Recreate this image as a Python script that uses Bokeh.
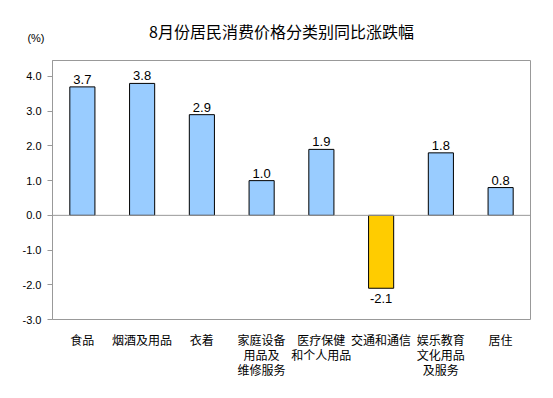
from bokeh.plotting import figure
from bokeh.layouts import column
from bokeh.models import Range1d, FactorRange, ColumnDataSource, Span, Label, FixedTicker, NumeralTickFormatter
from bokeh.embed import file_html
from bokeh.resources import INLINE
from bokeh.core.properties import value

categories = ["食品", "烟酒及用品", "衣着", "家庭设备\n用品及\n维修服务", "医疗保健\n和个人用品",
              "交通和通信", "娱乐教育\n文化用品\n及服务", "居住"]
values = [3.7, 3.8, 2.9, 1.0, 1.9, -2.1, 1.8, 0.8]
value_labels = ["3.7", "3.8", "2.9", "1.0", "1.9", "-2.1", "1.8", "0.8"]
y_ticks = [-3, -2, -1, 0, 1, 2, 3, 4]
title_text = "8月份居民消费价格分类别同比涨跌幅"
unit_text = "(%)"

colors = ["#99CCFF" if v >= 0 else "#FFCC00" for v in values]

# header strip holding the title and the unit label
head = figure(width=537, height=60, output_backend="svg", toolbar_location=None,
              x_range=Range1d(0, 1), y_range=Range1d(0, 1),
              min_border_left=52, min_border_right=7, min_border_top=14, min_border_bottom=0)
head.xaxis.visible = False
head.grid.visible = False
head.outline_line_color = None
head.background_fill_color = "white"
head.border_fill_color = "white"
hy = head.yaxis[0]
hy.ticker = FixedTicker(ticks=[])
hy.axis_line_color = None
hy.major_tick_line_color = None
hy.minor_tick_line_color = None
hy.major_tick_out = 0
hy.major_tick_in = 0
hy.major_label_standoff = 0
hy.axis_label = unit_text
hy.axis_label_orientation = "horizontal"
hy.axis_label_standoff = 8
hy.axis_label_text_font = "Liberation Sans"
hy.axis_label_text_font_size = "11px"
hy.axis_label_text_font_style = "normal"
hy.axis_label_text_color = "black"
head.add_layout(Label(x=229, y=30, x_units="screen", y_units="screen", text=title_text,
                      text_align="center", text_baseline="middle",
                      text_font="Noto Sans CJK SC", text_font_size="16px", text_color="black"))

p = figure(width=537, height=322, output_backend="svg", toolbar_location=None,
           x_range=FactorRange(*categories, range_padding=0),
           y_range=Range1d(-3, 4.46),
           min_border_left=52, min_border_right=7, min_border_top=0, min_border_bottom=63)
p.background_fill_color = "white"
p.border_fill_color = "white"
p.outline_line_color = "#999999"
p.outline_line_width = 1
p.grid.visible = False

src = ColumnDataSource(dict(cat=categories, val=values, color=colors, lab=value_labels))
p.vbar(x="cat", top="val", bottom=0, width=0.42, fill_color="color", line_color="black",
       line_width=1, source=src)

p.add_layout(Span(location=0, dimension="width", line_color="#999999", line_width=1))

pos = ColumnDataSource(dict(cat=[c for c, v in zip(categories, values) if v >= 0],
                            val=[v for v in values if v >= 0],
                            lab=[l for l, v in zip(value_labels, values) if v >= 0]))
neg = ColumnDataSource(dict(cat=[c for c, v in zip(categories, values) if v < 0],
                            val=[v for v in values if v < 0],
                            lab=[l for l, v in zip(value_labels, values) if v < 0]))
p.text(x="cat", y="val", text="lab", source=pos, text_align="center", text_baseline="bottom",
       y_offset=-3, text_font=value("Liberation Sans"), text_font_size="13px", text_color="black")
p.text(x="cat", y="val", text="lab", source=neg, text_align="center", text_baseline="top",
       y_offset=6, text_font=value("Liberation Sans"), text_font_size="13px", text_color="black")

ya = p.yaxis[0]
ya.ticker = FixedTicker(ticks=y_ticks)
ya.formatter = NumeralTickFormatter(format="0.0")
ya.axis_line_color = "#999999"
ya.major_tick_line_color = "#999999"
ya.major_tick_in = 0
ya.major_tick_out = 5
ya.minor_tick_line_color = None
ya.major_label_text_font = "Liberation Sans"
ya.major_label_text_font_size = "11px"
ya.major_label_text_color = "black"
ya.major_label_standoff = 6

xa = p.xaxis[0]
xa.axis_line_color = None
xa.major_tick_line_color = None
xa.minor_tick_line_color = None
xa.major_label_text_font = "Noto Sans CJK SC"
xa.major_label_text_font_size = "12px"
xa.major_label_text_color = "black"
xa.major_label_text_line_height = 0.9
xa.major_label_standoff = 5

layout = column(head, p, spacing=0)
open("out.html", "w").write(file_html(layout, INLINE))
